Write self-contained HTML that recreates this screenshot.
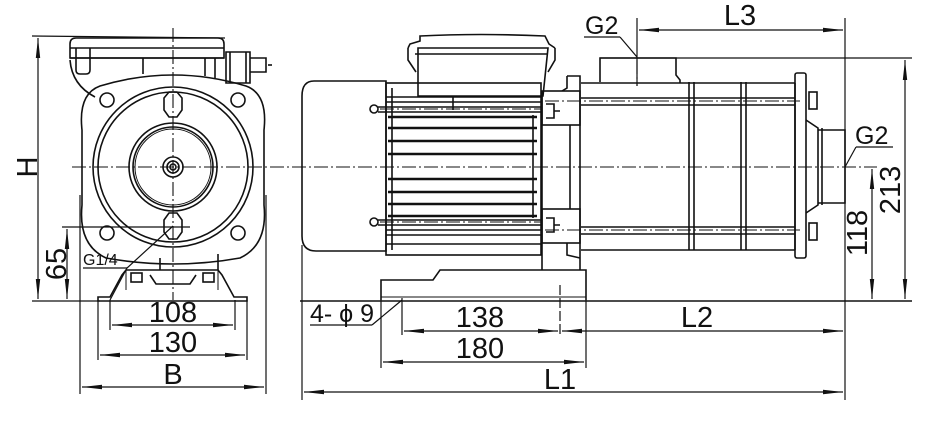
<!DOCTYPE html>
<html><head><meta charset="utf-8"><style>
html,body{margin:0;padding:0;background:#fff;}
svg{display:block;}
text{font-family:"Liberation Sans",sans-serif;fill:#111;}
</style></head><body>
<svg width="952" height="429" viewBox="0 0 952 429" xmlns="http://www.w3.org/2000/svg">
<defs>
<marker id="a" viewBox="0 0 20 6" refX="20" refY="3" markerWidth="20" markerHeight="6" markerUnits="userSpaceOnUse" orient="auto-start-reverse"><path d="M0,0.8 L20,3 L0,5.2 Z" fill="#111"/></marker>
</defs>
<g stroke="#111" stroke-width="1.6" fill="none">
<!-- ===== LEFT VIEW ===== -->
<line x1="32" y1="36" x2="225" y2="38" stroke-width="1.2"/>
<line x1="32" y1="301" x2="100" y2="301" stroke-width="1.2"/>
<line x1="38" y1="38" x2="38" y2="299" stroke-width="1.2" marker-start="url(#a)" marker-end="url(#a)"/>
<path d="M70,58 L70,44 Q70,38 76,38 L218,38 Q224,38 224,44 L224,58 Z"/>
<line x1="70" y1="48" x2="224" y2="48"/><line x1="70" y1="58" x2="224" y2="58"/>
<path d="M76,48 L76,70 Q76,74 80,74 L86,74 Q90,74 90,70 L90,48"/>
<path d="M143,58 L143,74 M205,58 L205,76 M215,58 L215,78"/>
<path d="M226,52 L250,52 L250,83 L226,83 Z"/><line x1="230" y1="52" x2="230" y2="83"/><line x1="246" y1="52" x2="246" y2="83"/>
<path d="M250,58 L266,58 L266,72 L250,72"/><line x1="268" y1="65" x2="272" y2="65"/>
<path d="M70,60 Q72,85 95,97"/>
<path d="M100,86 Q173,64 246,86 Q268,94 264,130 L264,205 Q268,245 240,258 Q173,270 106,258 Q78,245 82,205 L82,130 Q78,94 100,86 Z"/>
<circle cx="173" cy="167" r="80"/><circle cx="173" cy="167" r="75"/>
<circle cx="173" cy="167" r="44"/><circle cx="173" cy="167" r="40"/><circle cx="173" cy="167" r="38" stroke-width="1"/>
<circle cx="173" cy="167" r="10"/><circle cx="173" cy="167" r="6"/><circle cx="173" cy="167" r="3"/>
<circle cx="107" cy="100" r="7"/><circle cx="238" cy="100" r="7"/><circle cx="107" cy="233" r="7"/><circle cx="238" cy="233" r="7"/>
<path d="M164,98 L169,92 L177,92 L182,98 L182,110 L177,117 L169,117 L164,110 Z"/>
<path d="M164,220 L169,213 L177,213 L182,220 L182,232 L177,239 L169,239 L164,232 Z"/>
<path d="M160,258 L160,270 M218,254 L218,270"/>
<path d="M98,301 L98,297 L110,297 L122,275 L126,270 L218,270 L222,275 L234,297 L247,297 L247,301 Z"/>
<path d="M126,270 L126,290 M218,270 L218,290" stroke-width="1"/>
<rect x="131" y="273" width="11" height="9"/><rect x="203" y="273" width="11" height="9"/>
<path d="M150,275 L156,284 L190,284 L196,275"/>
<line x1="62" y1="227" x2="190" y2="227" stroke-width="1.2"/>
<line x1="67" y1="229" x2="67" y2="299" stroke-width="1.2" marker-start="url(#a)" marker-end="url(#a)"/>
<line x1="83" y1="268" x2="127" y2="268" stroke-width="1.2"/>
<line x1="127" y1="268" x2="173" y2="226" stroke-width="1.2"/>
<line x1="127" y1="268" x2="110" y2="300" stroke-width="1.2"/>
<line x1="110" y1="300" x2="110" y2="330" stroke-width="1.2"/><line x1="235" y1="300" x2="235" y2="330" stroke-width="1.2"/>
<line x1="112" y1="325" x2="233" y2="325" stroke-width="1.2" marker-start="url(#a)" marker-end="url(#a)"/>
<line x1="98" y1="300" x2="98" y2="360" stroke-width="1.2"/><line x1="247" y1="300" x2="247" y2="360" stroke-width="1.2"/>
<line x1="100" y1="355" x2="245" y2="355" stroke-width="1.2" marker-start="url(#a)" marker-end="url(#a)"/>
<line x1="80" y1="195" x2="80" y2="394" stroke-width="1.2"/><line x1="266" y1="195" x2="266" y2="394" stroke-width="1.2"/>
<line x1="82" y1="387" x2="264" y2="387" stroke-width="1.2" marker-start="url(#a)" marker-end="url(#a)"/>
<g stroke-width="1.1" stroke-dasharray="14,3,2,3">
<line x1="173" y1="28" x2="173" y2="300"/>
<line x1="72" y1="167" x2="877" y2="167"/>
</g>
<!-- ===== SIDE VIEW ===== -->
<path d="M386,81 L314,81 Q302,81 302,96 L302,236 Q302,251 316,251 L386,251 Z"/>
<rect x="386" y="83" width="155" height="172"/>
<line x1="392" y1="88" x2="392" y2="250"/>
<line x1="386" y1="97" x2="541" y2="97"/><line x1="386" y1="102" x2="541" y2="102"/>
<line x1="386" y1="230" x2="541" y2="230"/><line x1="386" y1="235" x2="541" y2="235"/>
<line x1="386" y1="244" x2="541" y2="244"/>
<g stroke-width="2.6">
<line x1="388" y1="128" x2="537" y2="128"/><line x1="388" y1="141" x2="537" y2="141"/><line x1="388" y1="154" x2="537" y2="154"/>
<line x1="388" y1="179" x2="537" y2="179"/><line x1="388" y1="192" x2="537" y2="192"/><line x1="388" y1="204" x2="537" y2="204"/>
<line x1="388" y1="117" x2="537" y2="117"/><line x1="388" y1="216" x2="537" y2="216"/>
</g>
<line x1="533" y1="115" x2="533" y2="218"/>
<circle cx="374" cy="109" r="4"/><circle cx="374" cy="222" r="4"/>
<line x1="378" y1="107" x2="541" y2="107"/><line x1="378" y1="112" x2="541" y2="112"/>
<line x1="378" y1="220" x2="541" y2="220"/><line x1="378" y1="225" x2="541" y2="225"/>
<path d="M418,48 L418,96 L543,96 L548,48 Z"/>
<path d="M408,48 L410,44 L420,41 L420,36 Q480,33 545,36 L549,44 L555,48"/>
<line x1="415" y1="54" x2="548" y2="54"/>
<path d="M408,48 L408,60 L416,72 M555,48 L555,60 L548,72"/>
<line x1="453" y1="96" x2="453" y2="110"/>
<path d="M542,91 L542,270 M580,76 L580,270 M567,76 L580,76 L580,91 M567,76 L567,88 L562,91"/>
<rect x="542" y="91" width="38" height="34"/><rect x="542" y="209" width="38" height="34"/>
<path d="M546,104 L554,104 L554,118 L546,118 M554,111 L560,111"/>
<path d="M546,218 L554,218 L554,232 L546,232 M554,225 L560,225"/>
<path d="M567,243 L567,255 L580,258"/>
<line x1="570" y1="125" x2="570" y2="209"/>
<path d="M381,300 L381,280 L433,280 L440,270 L586,270 L586,300"/>
<line x1="381" y1="297" x2="586" y2="297" stroke-width="1"/>
<line x1="300" y1="301" x2="912" y2="301"/>
<line x1="581" y1="83" x2="795" y2="83"/><line x1="581" y1="250" x2="795" y2="250"/>
<line x1="581" y1="98" x2="795" y2="98"/><line x1="581" y1="105" x2="795" y2="105"/>
<line x1="581" y1="227" x2="795" y2="227"/><line x1="581" y1="234" x2="795" y2="234"/>
<path d="M689,82 L689,250 M694,82 L694,250 M741,82 L741,250 M746,82 L746,250"/>
<path d="M600,82 L600,58 L676,58 L676,75 L680,80 L680,83"/>
<path d="M795,83 L795,250"/>
<rect x="795" y="73" width="11" height="185" rx="2"/>
<rect x="809" y="92" width="8" height="17"/><rect x="809" y="223" width="8" height="17"/>
<path d="M806,120 L818,128 L818,205 L806,213"/>
<path d="M818,130 L845,130 L845,203 L818,203"/>
<line x1="822" y1="128" x2="822" y2="205"/>
<line x1="845" y1="18" x2="845" y2="400" stroke-width="1.2"/>
<line x1="600" y1="58" x2="912" y2="58" stroke-width="1.2"/>
<line x1="637" y1="18" x2="637" y2="86" stroke-width="1.2"/>
<line x1="639" y1="30" x2="843" y2="30" stroke-width="1.2" marker-start="url(#a)" marker-end="url(#a)"/>
<line x1="584" y1="37" x2="620" y2="37" stroke-width="1.2"/><line x1="620" y1="37" x2="637" y2="57" stroke-width="1.2"/>
<line x1="856" y1="147" x2="893" y2="147" stroke-width="1.2"/><line x1="856" y1="147" x2="845" y2="167" stroke-width="1.2"/>
<line x1="905" y1="60" x2="905" y2="299" stroke-width="1.2" marker-start="url(#a)" marker-end="url(#a)"/>
<line x1="872" y1="169" x2="872" y2="299" stroke-width="1.2" marker-start="url(#a)" marker-end="url(#a)"/>
<line x1="402" y1="298" x2="402" y2="335" stroke-width="1.2"/><line x1="560" y1="285" x2="560" y2="335" stroke-width="1.2" stroke-dasharray="10,3"/>
<line x1="404" y1="331" x2="558" y2="331" stroke-width="1.2" marker-start="url(#a)" marker-end="url(#a)"/>
<line x1="562" y1="331" x2="843" y2="331" stroke-width="1.2" marker-start="url(#a)" marker-end="url(#a)"/>
<line x1="381" y1="300" x2="381" y2="368" stroke-width="1.2"/><line x1="586" y1="300" x2="586" y2="368" stroke-width="1.2"/>
<line x1="383" y1="362" x2="584" y2="362" stroke-width="1.2" marker-start="url(#a)" marker-end="url(#a)"/>
<line x1="302" y1="245" x2="302" y2="400" stroke-width="1.2"/>
<line x1="304" y1="392" x2="843" y2="392" stroke-width="1.2" marker-start="url(#a)" marker-end="url(#a)"/>
<line x1="310" y1="325" x2="372" y2="325" stroke-width="1.2"/><line x1="372" y1="325" x2="402" y2="300" stroke-width="1.2"/>
<g stroke-width="1.1" stroke-dasharray="14,3,2,3">
<line x1="545" y1="101" x2="800" y2="101"/><line x1="545" y1="230" x2="800" y2="230"/>
<line x1="380" y1="109" x2="541" y2="109"/><line x1="380" y1="222" x2="541" y2="222"/>
<line x1="637" y1="60" x2="637" y2="86"/>
</g>
</g>
<g font-size="29">
<text x="173" y="322" text-anchor="middle">108</text>
<text x="173" y="352" text-anchor="middle">130</text>
<text x="173" y="384" text-anchor="middle">B</text>
<text transform="translate(37,167) rotate(-90)" text-anchor="middle">H</text>
<text transform="translate(66,264) rotate(-90)" text-anchor="middle">65</text>
<text x="480" y="327" text-anchor="middle">138</text>
<text x="480" y="358" text-anchor="middle">180</text>
<text x="697" y="327" text-anchor="middle">L2</text>
<text x="560" y="389" text-anchor="middle">L1</text>
<text x="740" y="25" text-anchor="middle">L3</text>
<text transform="translate(900,190) rotate(-90)" text-anchor="middle">213</text>
<text transform="translate(867,233) rotate(-90)" text-anchor="middle">118</text>
</g>
<text x="585" y="34" font-size="25">G2</text>
<text x="855" y="144" font-size="25">G2</text>
<text x="83" y="265" font-size="16">G1/4</text>
<text x="310" y="322" font-size="25">4- ϕ 9</text>
</svg>
</body></html>
